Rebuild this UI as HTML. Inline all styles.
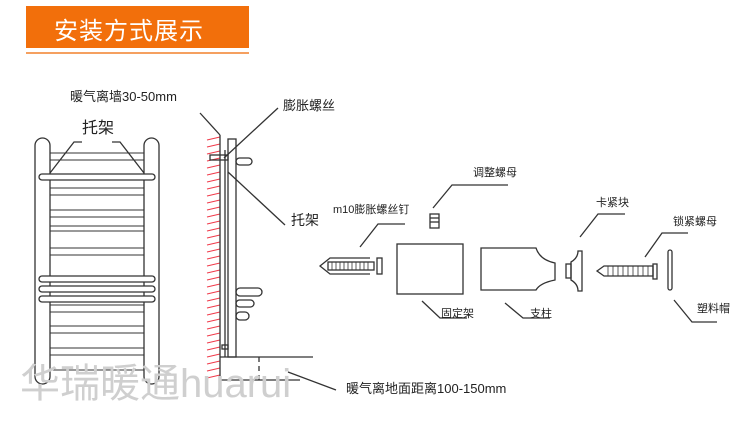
<!DOCTYPE html>
<html><head><meta charset="utf-8"><style>
body{margin:0;width:750px;height:426px;background:#fff;overflow:hidden;position:relative;font-family:"Liberation Sans","Noto Sans CJK SC",sans-serif}
.t{position:absolute;color:#222;white-space:nowrap}
</style></head><body>
<div style="position:absolute;left:26px;top:6px;width:223px;height:42px;background:#f26f0b"></div>
<div style="position:absolute;left:26px;top:52px;width:223px;height:2px;background:#f5a060"></div>
<div class="t" style="left:54px;top:11px;font-size:24px;color:#fff;letter-spacing:1px">安装方式展示</div>
<svg width="750" height="426" style="position:absolute;left:0;top:0" fill="none" stroke="#333" stroke-width="1.3">
<!-- radiator tubes -->
<rect x="35" y="138" width="15" height="246" rx="7.5"/>
<rect x="144" y="138" width="15" height="246" rx="7.5"/>
<g stroke-width="1.1">
<line x1="50" y1="153" x2="144" y2="153"/><line x1="50" y1="160" x2="144" y2="160"/>
<line x1="50" y1="188" x2="144" y2="188"/><line x1="50" y1="195" x2="144" y2="195"/>
<line x1="50" y1="210" x2="144" y2="210"/><line x1="50" y1="217" x2="144" y2="217"/>
<line x1="50" y1="226" x2="144" y2="226"/><line x1="50" y1="231" x2="144" y2="231"/>
<line x1="50" y1="248" x2="144" y2="248"/><line x1="50" y1="255" x2="144" y2="255"/>
<line x1="50" y1="305" x2="144" y2="305"/><line x1="50" y1="312" x2="144" y2="312"/>
<line x1="50" y1="326" x2="144" y2="326"/><line x1="50" y1="333" x2="144" y2="333"/>
<line x1="50" y1="348" x2="144" y2="348"/><line x1="50" y1="355" x2="144" y2="355"/>
<line x1="50" y1="370" x2="144" y2="370"/>
</g>
<rect x="39" y="174" width="116" height="6" rx="3" fill="#fff"/>
<rect x="39" y="276" width="116" height="6" rx="3" fill="#fff"/>
<rect x="39" y="286" width="116" height="6" rx="3" fill="#fff"/>
<rect x="39" y="296" width="116" height="6" rx="3" fill="#fff"/>
<polyline points="50,173 74,142 82,142"/><polyline points="144,173 120,142 112,142"/>
<!-- wall -->
<g stroke="#f03a4a" stroke-width="1">
<line x1="207" y1="140" x2="220" y2="137"/><line x1="207" y1="147" x2="220" y2="144"/><line x1="207" y1="154" x2="220" y2="151"/><line x1="207" y1="161" x2="220" y2="158"/><line x1="207" y1="168" x2="220" y2="165"/><line x1="207" y1="175" x2="220" y2="172"/><line x1="207" y1="182" x2="220" y2="179"/><line x1="207" y1="189" x2="220" y2="186"/><line x1="207" y1="196" x2="220" y2="193"/><line x1="207" y1="203" x2="220" y2="200"/><line x1="207" y1="210" x2="220" y2="207"/><line x1="207" y1="217" x2="220" y2="214"/><line x1="207" y1="224" x2="220" y2="221"/><line x1="207" y1="231" x2="220" y2="228"/><line x1="207" y1="238" x2="220" y2="235"/><line x1="207" y1="245" x2="220" y2="242"/><line x1="207" y1="252" x2="220" y2="249"/><line x1="207" y1="259" x2="220" y2="256"/><line x1="207" y1="266" x2="220" y2="263"/><line x1="207" y1="273" x2="220" y2="270"/><line x1="207" y1="280" x2="220" y2="277"/><line x1="207" y1="287" x2="220" y2="284"/><line x1="207" y1="294" x2="220" y2="291"/><line x1="207" y1="301" x2="220" y2="298"/><line x1="207" y1="308" x2="220" y2="305"/><line x1="207" y1="315" x2="220" y2="312"/><line x1="207" y1="322" x2="220" y2="319"/><line x1="207" y1="329" x2="220" y2="326"/><line x1="207" y1="336" x2="220" y2="333"/><line x1="207" y1="343" x2="220" y2="340"/><line x1="207" y1="350" x2="220" y2="347"/><line x1="207" y1="357" x2="220" y2="354"/><line x1="207" y1="364" x2="220" y2="361"/><line x1="207" y1="371" x2="220" y2="368"/><line x1="207" y1="378" x2="220" y2="375"/>
</g>
<line x1="200" y1="113" x2="220" y2="135"/>
<polyline points="220,135 220,380 300,380"/>
<line x1="220" y1="357" x2="313" y2="357"/>
<line x1="259" y1="357" x2="259" y2="380" stroke-dasharray="5,4"/>
<rect x="228" y="139" width="8" height="218"/>
<line x1="225" y1="150" x2="225" y2="357"/>
<rect x="210" y="155" width="18" height="5"/>
<rect x="236" y="158" width="16" height="7" rx="3.5"/>
<rect x="222" y="345" width="6" height="4"/>
<rect x="236" y="288" width="26" height="8" rx="4"/>
<rect x="236" y="300" width="18" height="7" rx="3.5"/>
<rect x="236" y="312" width="13" height="8" rx="4"/>
<line x1="278" y1="108" x2="224" y2="158"/>
<line x1="285" y1="225" x2="228" y2="172"/>
<line x1="288" y1="372" x2="336" y2="390"/>
<!-- anchor bolt -->
<polyline points="370,258 330,258 320,266 330,274 370,274"/>
<rect x="328" y="262" width="46" height="8"/>
<g stroke-width="0.8"><line x1="332" y1="262" x2="332" y2="270"/><line x1="336" y1="262" x2="336" y2="270"/><line x1="340" y1="262" x2="340" y2="270"/><line x1="344" y1="262" x2="344" y2="270"/><line x1="348" y1="262" x2="348" y2="270"/><line x1="352" y1="262" x2="352" y2="270"/><line x1="356" y1="262" x2="356" y2="270"/><line x1="360" y1="262" x2="360" y2="270"/><line x1="364" y1="262" x2="364" y2="270"/><line x1="368" y1="262" x2="368" y2="270"/></g>
<rect x="377" y="258" width="5" height="16"/>
<polyline points="360,247 378,224 405,224"/>
<!-- nut -->
<rect x="430" y="214" width="9" height="14"/>
<line x1="430" y1="218" x2="439" y2="218"/><line x1="430" y1="222" x2="439" y2="222"/>
<polyline points="433,208 452,185 508,185"/>
<rect x="397" y="244" width="66" height="50"/>
<polyline points="422,301 440,318 467,318"/>
<path d="M481,248 H536 Q540,260 555,263 V280 Q540,283 536,290 H481 Z"/>
<polyline points="505,303 523,318 550,318"/>
<!-- clamp -->
<rect x="566" y="264" width="5" height="14"/>
<path d="M571,262 Q578,258 578,251 H582 V291 H578 Q578,284 571,280 Z"/>
<polyline points="580,237 598,214 625,214"/>
<!-- screw -->
<path d="M597,271 L604,266 H653 V276 H604 Z"/>
<g stroke-width="0.8"><line x1="608" y1="266" x2="608" y2="276"/><line x1="613" y1="266" x2="613" y2="276"/><line x1="618" y1="266" x2="618" y2="276"/><line x1="623" y1="266" x2="623" y2="276"/><line x1="628" y1="266" x2="628" y2="276"/><line x1="633" y1="266" x2="633" y2="276"/><line x1="638" y1="266" x2="638" y2="276"/><line x1="643" y1="266" x2="643" y2="276"/><line x1="648" y1="266" x2="648" y2="276"/></g>
<rect x="653" y="264" width="4" height="15"/>
<polyline points="645,257 662,233 688,233"/>
<rect x="668" y="250" width="4" height="40" rx="2"/>
<polyline points="674,300 692,322 717,322"/>
</svg>
<div class="t" style="left:70px;top:86px;font-size:13px">暖气离墙30-50mm</div>
<div class="t" style="left:82px;top:114px;font-size:16px">托架</div>
<div class="t" style="left:283px;top:95px;font-size:13px">膨胀螺丝</div>
<div class="t" style="left:291px;top:210px;font-size:14px">托架</div>
<div class="t" style="left:333px;top:201px;font-size:11px">m10膨胀螺丝钉</div>
<div class="t" style="left:473px;top:164px;font-size:11px">调整螺母</div>
<div class="t" style="left:441px;top:305px;font-size:11px">固定架</div>
<div class="t" style="left:530px;top:305px;font-size:11px">支柱</div>
<div class="t" style="left:596px;top:194px;font-size:11px">卡紧块</div>
<div class="t" style="left:673px;top:213px;font-size:11px">锁紧螺母</div>
<div class="t" style="left:697px;top:300px;font-size:11px">塑料帽</div>
<div class="t" style="left:346px;top:378px;font-size:13px">暖气离地面距离100-150mm</div>
<div class="t" style="left:20px;top:360px;font-size:40px;color:#cfcfcf;line-height:48px">华瑞暖通huarui</div>
</body></html>
